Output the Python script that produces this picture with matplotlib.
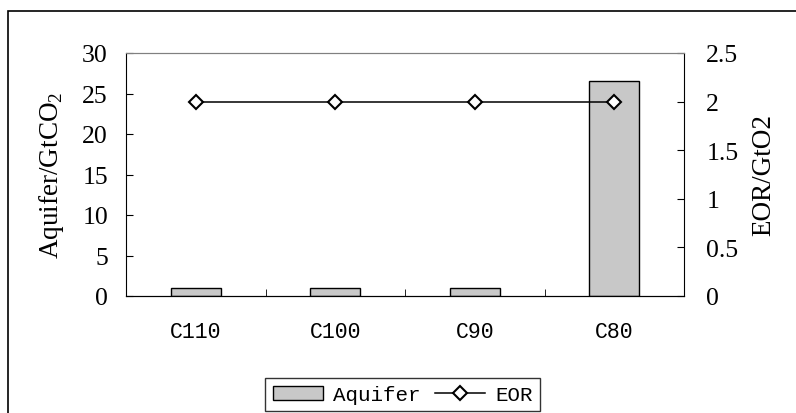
import numpy as np
import matplotlib
matplotlib.use("Agg")
import matplotlib.pyplot as plt
from matplotlib.patches import Rectangle

categories = ["C110", "C100", "C90", "C80"]
aquifer = [1.0, 1.0, 1.0, 26.5]
eor = [2.0, 2.0, 2.0, 2.0]

serif = "Liberation Serif"
mono = "Liberation Mono"
plt.rcParams["mathtext.fontset"] = "custom"
plt.rcParams["mathtext.rm"] = serif

fig = plt.figure(figsize=(7.96, 4.14), dpi=100)

# outer chart frame (only left and top edges are inside the picture)
fig.patches.append(Rectangle((8 / 796, -0.2), 1.2, 1.2 - 12 / 414,
                             transform=fig.transFigure, fill=False,
                             edgecolor="black", linewidth=1.2))

ax = fig.add_axes([126 / 796, 1 - 297 / 414, 558 / 796, 243 / 414])
x = np.arange(len(categories))
bars = ax.bar(x, aquifer, width=0.36, color="#c8c8c8", edgecolor="black",
              linewidth=1.0, label="Aquifer", zorder=2)
ax.set_xlim(-0.5, 3.5)
ax.set_ylim(0, 30)
ax.set_yticks(np.arange(0, 31, 5))
ax.set_xticks(x)
ax.set_xticklabels(categories, fontfamily=mono, fontsize=15.5)
ax.set_xticks([0.5, 1.5, 2.5], minor=True)
ax.tick_params(axis="x", which="major", length=0, pad=18)
ax.tick_params(axis="x", which="minor", direction="in", length=5, color="black")
ax.tick_params(axis="y", direction="in", length=5, labelsize=18.5, pad=13)
for lab in ax.get_yticklabels():
    lab.set_fontfamily(serif)
ax.set_ylabel("Aquifer/GtCO$_2$", fontfamily=serif, fontsize=19.5, labelpad=12)
ax.spines["top"].set_color("#808080")
ax.spines["right"].set_visible(False)

ax2 = ax.twinx()
line, = ax2.plot(x, eor, color="black", linewidth=1.1, marker="D", markersize=7,
                 markerfacecolor="white", markeredgecolor="black",
                 markeredgewidth=1.5, label="EOR", zorder=3)
ax2.set_ylim(0, 2.5)
ax2.set_yticks([0, 0.5, 1, 1.5, 2, 2.5])
ax2.set_yticklabels(["0", "0.5", "1", "1.5", "2", "2.5"])
ax2.tick_params(axis="y", direction="in", length=5, labelsize=18.5, pad=16)
for lab in ax2.get_yticklabels():
    lab.set_fontfamily(serif)
ax2.set_ylabel("EOR/GtO2", fontfamily=serif, fontsize=19.5, labelpad=9)
ax2.spines["top"].set_color("#808080")
ax2.spines["left"].set_visible(False)

leg = fig.legend([bars, line], ["Aquifer", "EOR"], loc="lower center",
                 bbox_to_anchor=(0.506, 0.004), ncol=2, frameon=True,
                 fancybox=False, prop={"family": mono, "size": 15},
                 handlelength=2.4, handleheight=0.65, columnspacing=0.7,
                 handletextpad=0.5, borderpad=0.35, borderaxespad=0.0)
leg.get_frame().set_edgecolor("black")
leg.get_frame().set_linewidth(1.0)

fig.savefig("out.png", dpi=100)
